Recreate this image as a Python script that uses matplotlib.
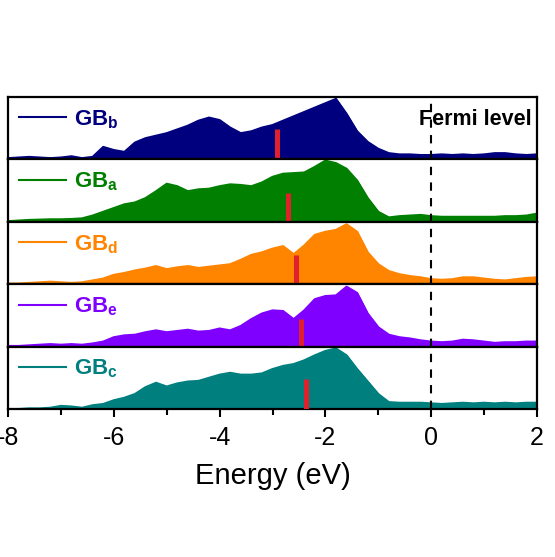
import numpy as np
import matplotlib
matplotlib.use("Agg")
import matplotlib.pyplot as plt

plt.rcParams['font.family'] = ['Liberation Sans', 'DejaVu Sans']
plt.rcParams['mathtext.fontset'] = 'custom'
plt.rcParams['mathtext.rm'] = 'Liberation Sans'
plt.rcParams['mathtext.bf'] = 'Liberation Sans:bold'
plt.rcParams['axes.unicode_minus'] = False

# energy grid (eV), 0.2 eV step
energy = np.round(np.arange(-8.0, 2.01, 0.2), 2)

dos_b = [0.02, 0.03, 0.04, 0.03, 0.02, 0.03, 0.05, 0.02, 0.04, 0.20,
         0.15, 0.12, 0.27, 0.34, 0.38, 0.42, 0.48, 0.54, 0.62, 0.67,
         0.63, 0.51, 0.42, 0.45, 0.51, 0.55, 0.62, 0.69, 0.76, 0.83,
         0.90, 0.97, 0.73, 0.45, 0.28, 0.17, 0.10, 0.08, 0.08, 0.07,
         0.07, 0.08, 0.07, 0.08, 0.07, 0.08, 0.10, 0.10, 0.08, 0.07, 0.08]
dos_a = [0.01, 0.02, 0.03, 0.035, 0.04, 0.04, 0.045, 0.055, 0.10, 0.16,
         0.22, 0.28, 0.31, 0.38, 0.49, 0.61, 0.57, 0.49, 0.52, 0.53,
         0.57, 0.60, 0.59, 0.57, 0.63, 0.72, 0.77, 0.78, 0.79, 0.88,
         0.98, 0.94, 0.85, 0.66, 0.38, 0.16, 0.07, 0.09, 0.10, 0.11,
         0.09, 0.08, 0.08, 0.08, 0.08, 0.08, 0.08, 0.09, 0.09, 0.10, 0.13]
dos_d = [0.01, 0.01, 0.02, 0.03, 0.04, 0.03, 0.02, 0.03, 0.06, 0.09,
         0.15, 0.18, 0.22, 0.25, 0.29, 0.24, 0.27, 0.29, 0.26, 0.28,
         0.30, 0.32, 0.39, 0.47, 0.51, 0.57, 0.61, 0.48, 0.62, 0.79,
         0.84, 0.87, 0.96, 0.84, 0.51, 0.32, 0.21, 0.16, 0.13, 0.11,
         0.08, 0.07, 0.08, 0.11, 0.11, 0.09, 0.07, 0.06, 0.08, 0.10, 0.11]
dos_e = [0.01, 0.01, 0.02, 0.03, 0.04, 0.03, 0.04, 0.03, 0.05, 0.08,
         0.15, 0.18, 0.19, 0.23, 0.26, 0.23, 0.25, 0.27, 0.24, 0.25,
         0.29, 0.26, 0.33, 0.44, 0.53, 0.58, 0.57, 0.44, 0.58, 0.76,
         0.81, 0.82, 0.96, 0.86, 0.53, 0.31, 0.19, 0.15, 0.13, 0.10,
         0.08, 0.07, 0.08, 0.11, 0.10, 0.08, 0.06, 0.07, 0.07, 0.08, 0.08]
dos_c = [0.00, 0.00, 0.01, 0.01, 0.02, 0.05, 0.04, 0.02, 0.06, 0.08,
         0.14, 0.18, 0.24, 0.35, 0.42, 0.36, 0.41, 0.44, 0.45, 0.50,
         0.55, 0.58, 0.55, 0.55, 0.57, 0.64, 0.69, 0.72, 0.78, 0.86,
         0.93, 0.97, 0.86, 0.64, 0.44, 0.24, 0.11, 0.10, 0.10, 0.10,
         0.09, 0.08, 0.09, 0.10, 0.09, 0.10, 0.09, 0.10, 0.09, 0.10, 0.10]

labels = ['b', 'a', 'd', 'e', 'c']
colors = ['#00007f', '#007f00', '#ff8400', '#7f00ff', '#007f7f']
series = [dos_b, dos_a, dos_d, dos_e, dos_c]

# d-band centre markers (eV) and their heights
centers = [-2.91, -2.70, -2.56, -2.47, -2.37]
center_h = [0.48, 0.46, 0.47, 0.44, 0.48]

fig, axes = plt.subplots(5, 1, figsize=(5.55, 5.57), dpi=100, sharex=True)
fig.subplots_adjust(left=8/555, right=537/555, top=1-97/557, bottom=1-409/557, hspace=0)

for ax, lab, col, dos, ec, eh in zip(axes, labels, colors, series, centers, center_h):
    ax.fill_between(energy, 0, dos, color=col, lw=0.8, zorder=2)
    ax.plot(energy, dos, color=col, lw=1.5, label=r'GB$_\mathbf{%s}$' % lab, zorder=2)
    ax.plot([ec, ec], [0, eh], color='#e0202a', lw=3.6, solid_capstyle='butt', zorder=3)
    ax.axvline(0, color='black', lw=1.5, dashes=(4, 3.5), zorder=4)
    ax.set_xlim(-8, 2)
    ax.set_ylim(0, 1)
    ax.set_yticks([])
    for s in ax.spines.values():
        s.set_linewidth(1.6)
    ax.tick_params(axis='x', which='both', direction='out', bottom=True, top=False,
                   width=1.5, labelsize=18, pad=6)
    ax.tick_params(axis='x', which='major', length=6)
    ax.tick_params(axis='x', which='minor', length=4)
    leg = ax.legend(loc='upper left', frameon=False, handlelength=2.1, handletextpad=0.35,
                    borderaxespad=0.1, prop={'weight': 'bold', 'size': 16},
                    labelcolor='linecolor')

for ax in axes[:-1]:
    ax.tick_params(axis='x', which='both', bottom=False, labelbottom=False)

axes[-1].set_xticks([-8, -6, -4, -2, 0, 2])
axes[-1].set_xticks([-7, -5, -3, -1, 1], minor=True)
axes[-1].set_xlabel('Energy (eV)', fontsize=21, labelpad=9)

axes[0].text(1.9, 0.55, 'Fermi level', ha='right', va='baseline',
             fontsize=15.5, fontweight='bold', zorder=5)

fig.savefig('out.png', dpi=100)
